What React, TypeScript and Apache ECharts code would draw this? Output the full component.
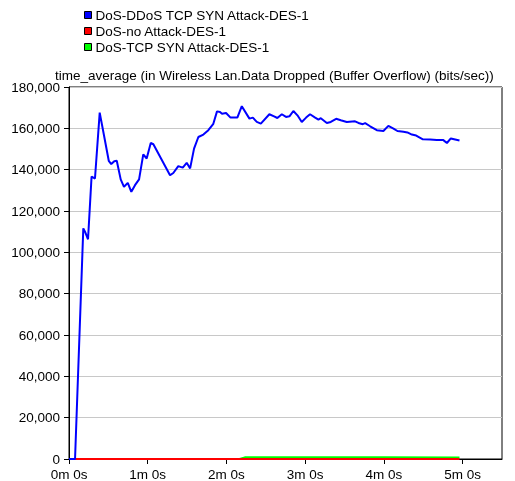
import React, { useEffect, useRef } from "react";
import * as echarts from "echarts";

const seriesNames = [
  "DoS-DDoS TCP SYN Attack-DES-1",
  "DoS-no Attack-DES-1",
  "DoS-TCP SYN Attack-DES-1",
];

const chartTitle =
  "time_average (in Wireless Lan.Data Dropped (Buffer Overflow) (bits/sec))";

// [seconds, bits/sec]
const ddosData: [number, number][] = [
  [0, 0], [4.6, 0], [10.9, 111600], [12.2, 110000], [14.5, 106300],
  [17.2, 136700], [19.8, 135700], [23.4, 167600], [26.9, 155800],
  [30.3, 144300], [32.2, 142700], [34.5, 144100], [36.4, 144300],
  [39.4, 135300], [41.9, 131700], [44.8, 133600], [47.5, 129300],
  [50.3, 132500], [53.4, 135300], [56.6, 147400], [59.2, 145400],
  [62.3, 152900], [64.3, 152300], [77.0, 137300], [79.5, 138400],
  [83.3, 141700], [86.7, 141000], [89.7, 143300], [92.3, 140600],
  [95.3, 150200], [98.6, 155800], [102.4, 157000], [106.2, 159100],
  [110.0, 162200], [112.8, 168200], [115.1, 167900], [116.6, 167100],
  [119.7, 167400], [123.1, 165200], [128.3, 165200], [131.7, 170700],
  [137.5, 164700], [140.1, 165200], [143.1, 163100], [146.2, 162300],
  [152.7, 166800], [156.3, 165800], [158.8, 165000], [162.2, 166800],
  [165.4, 165500], [168.0, 165800], [171.0, 168400], [174.1, 166300],
  [177.4, 163100], [180.7, 165200], [183.7, 166800], [187.6, 165200],
  [190.1, 164200], [191.9, 164900], [196.5, 162600], [199.5, 163100],
  [203.6, 164600], [207.1, 163900], [211.7, 163100], [218.0, 163400],
  [220.6, 162600], [223.9, 162000], [225.7, 162500], [229.5, 161000],
  [234.6, 159100], [239.6, 158700], [243.4, 161200], [247.3, 159900],
  [250.3, 158700], [254.9, 158300], [257.9, 158000], [261.3, 157000],
  [264.6, 156500], [269.7, 154700], [275.2, 154600], [280.3, 154300],
  [285.3, 154300], [288.0, 152900], [291.0, 155100], [294.3, 154600],
  [297.6, 154100],
];

const noAttackData: [number, number][] = [
  [0, 0], [60, 0], [120, 0], [180, 0], [240, 0], [297.6, 0],
];

const synData: [number, number][] = [
  [0, 0], [130, 0], [134, 800], [180, 800], [240, 800], [297.6, 750],
];

const xTickValues = [0, 60, 120, 180, 240, 300];
const colors = ["#0000ff", "#ff0000", "#00ff00"];

const FONT = "Arial, 'Liberation Sans', sans-serif";
const FS = 13.5;

export default function App() {
  const ref = useRef<HTMLDivElement>(null);
  useEffect(() => {
    if (!ref.current) return;
    const chart = echarts.init(ref.current, null, { renderer: "svg" });
    const fmtTime = (v: number) => `${Math.floor(v / 60)}m ${Math.round(v % 60)}s`;
    const fmtNum = (v: number) =>
      String(Math.round(v)).replace(/\B(?=(\d{3})+(?!\d))/g, ",");
    chart.setOption({
      animation: false,
      textStyle: { fontFamily: FONT },
      title: {
        text: chartTitle,
        left: 55,
        top: 68,
        padding: 0,
        textStyle: { fontSize: FS, fontWeight: "normal", color: "#000", fontFamily: FONT },
      },
      legend: {
        orient: "vertical",
        left: 84,
        top: 8,
        padding: 0,
        icon: "rect",
        itemWidth: 7,
        itemHeight: 7,
        itemGap: 2,
        data: seriesNames.map((n, i) => ({
          name: n,
          itemStyle: { color: colors[i], borderColor: "#000", borderWidth: 1 },
        })),
        textStyle: { fontSize: FS, color: "#000", fontFamily: FONT, lineHeight: 13, padding: [0, 0, 0, -1] },
      },
      grid: {
        left: 69,
        right: 13,
        top: 87,
        bottom: 22,
        show: true,
        borderColor: "#000",
        borderWidth: 1,
      },
      xAxis: {
        type: "value",
        min: 0,
        max: 330,
        interval: 60,
        axisLine: { show: true, lineStyle: { color: "#000", width: 1 } },
        axisTick: { show: true, length: 5, lineStyle: { color: "#000" }, customValues: xTickValues },
        axisLabel: {
          customValues: xTickValues,
          formatter: (v: number) => fmtTime(v),
          color: "#000",
          fontSize: FS,
          margin: 8,
          fontFamily: FONT,
        },
        splitLine: { show: false },
      },
      yAxis: {
        type: "value",
        min: 0,
        max: 180000,
        interval: 20000,
        axisLine: { show: true, lineStyle: { color: "#000", width: 1 } },
        axisTick: { show: true, length: 5, lineStyle: { color: "#000" } },
        axisLabel: {
          formatter: (v: number) => fmtNum(v),
          color: "#000",
          fontSize: FS,
          margin: 9,
          fontFamily: FONT,
        },
        splitLine: { show: true, lineStyle: { color: "#c8c8c8", width: 1 } },
      },
      series: [
        {
          name: seriesNames[2],
          type: "line",
          data: synData,
          showSymbol: false,
          symbol: "none",
          lineStyle: { color: colors[2], width: 2 },
          itemStyle: { color: colors[2] },
          z: 2,
        },
        {
          name: seriesNames[1],
          type: "line",
          data: noAttackData,
          showSymbol: false,
          symbol: "none",
          lineStyle: { color: colors[1], width: 2 },
          itemStyle: { color: colors[1] },
          z: 3,
        },
        {
          name: seriesNames[0],
          type: "line",
          data: ddosData,
          showSymbol: false,
          symbol: "none",
          lineStyle: { color: colors[0], width: 2 },
          itemStyle: { color: colors[0] },
          z: 4,
        },
      ],
    });
    return () => chart.dispose();
  }, []);
  return (
    <div
      ref={ref}
      style={{ position: "fixed", left: 0, top: 0, width: 515, height: 481 }}
    />
  );
}
